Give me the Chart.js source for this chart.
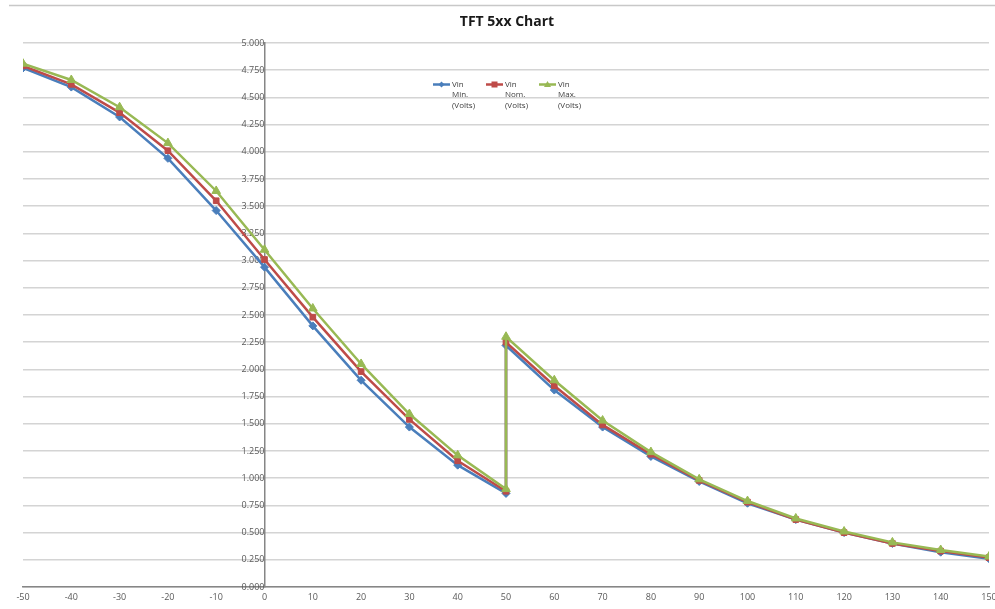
<!DOCTYPE html>
<html><head><meta charset="utf-8">
<script src="https://cdn.jsdelivr.net/npm/chart.js@4"></script>
<style>html,body{margin:0;padding:0;background:#fff}#wrap{width:995px;height:609px;position:relative}</style>
</head><body><div id="wrap"><canvas id="c"></canvas></div>
<script>
const xValues = [-50,-40,-30,-20,-10,0,10,20,30,40,50,50,60,70,80,90,100,110,120,130,140,150];
const vinMin = [4.77,4.595,4.32,3.94,3.46,2.94,2.40,1.90,1.47,1.12,0.86,2.22,1.81,1.47,1.20,0.97,0.77,0.62,0.50,0.40,0.32,0.26];
const vinNom = [4.79,4.62,4.36,4.01,3.55,3.01,2.48,1.98,1.54,1.16,0.88,2.25,1.85,1.49,1.22,0.98,0.78,0.62,0.50,0.40,0.33,0.27];
const vinMax = [4.81,4.66,4.41,4.08,3.64,3.10,2.56,2.05,1.59,1.21,0.90,2.30,1.90,1.53,1.24,0.99,0.79,0.63,0.51,0.41,0.34,0.28];
const seriesNames = [["Vin","Min.","(Volts)"],["Vin","Nom.","(Volts)"],["Vin","Max.","(Volts)"]];
const titleText = "TFT 5xx Chart";

const colors = ['#4a7ebb','#be4b48','#98b954'];
const styles = ['rectRot','rect','triangle'];
const radii = [4,4,5];
const toPts = arr => arr.map((v,i)=>({x:xValues[i],y:v}));
const datasets = [vinMin,vinNom,vinMax].map((arr,i)=>({
  label: seriesNames[i].join(' '),
  data: toPts(arr),
  showLine: true,
  order: 2 - i,
  borderColor: colors[i],
  backgroundColor: colors[i],
  borderWidth: 2.5,
  pointStyle: styles[i],
  pointRadius: radii[i],
  pointBorderWidth: 1,
  tension: 0
}));

const deco = {
  id:'deco',
  afterDraw(chart){
    const ctx = chart.ctx;
    ctx.save();
    ctx.strokeStyle = '#c8c8c8'; ctx.lineWidth = 1.5;
    ctx.beginPath(); ctx.moveTo(9,5.5); ctx.lineTo(995,5.5); ctx.stroke();
    ctx.fillStyle = '#1a1a1a';
    ctx.font = 'bold 14px "Open Sans", "Liberation Sans", sans-serif';
    ctx.textAlign = 'center'; ctx.textBaseline = 'middle';
    ctx.fillText(titleText, 507, 22);
    const xs = [433,486,539];
    ctx.font = '8px "Open Sans", "Liberation Sans", sans-serif';
    ctx.textAlign = 'left'; ctx.textBaseline = 'middle';
    xs.forEach((x0,i)=>{
      ctx.strokeStyle = colors[i]; ctx.lineWidth = 2.5;
      ctx.beginPath(); ctx.moveTo(x0,84.5); ctx.lineTo(x0+17,84.5); ctx.stroke();
      ctx.fillStyle = colors[i];
      const cx = x0+8.5, cy = 84.5;
      ctx.beginPath();
      if(i===0){ ctx.moveTo(cx,cy-3); ctx.lineTo(cx+3,cy); ctx.lineTo(cx,cy+3); ctx.lineTo(cx-3,cy); ctx.closePath(); }
      else if(i===1){ ctx.rect(cx-3,cy-3,6,6); }
      else { ctx.moveTo(cx,cy-3.5); ctx.lineTo(cx+3.5,cy+2.5); ctx.lineTo(cx-3.5,cy+2.5); ctx.closePath(); }
      ctx.fill();
      ctx.fillStyle = '#404040';
      seriesNames[i].forEach((t,k)=>ctx.fillText(t, x0+19, 84.5 + k*10.5));
    });
    ctx.restore();
  }
};

new Chart(document.getElementById('c'), {
  type: 'scatter',
  data: { datasets },
  options: {
    responsive: true, maintainAspectRatio: false, animation: false,
    layout: { padding: { top: 43, left: 23, right: 5, bottom: 0 } },
    plugins: { legend: { display: false }, title: { display: false }, tooltip: { enabled: false } },
    scales: {
      x: {
        type: 'linear', min: -50, max: 150,
        afterFit(s){ s.height = 22; s.paddingLeft = 0; s.paddingRight = 0; },
        ticks: { stepSize: 10, color: '#595959', font: { size: 9, family: '"Open Sans", sans-serif' }, padding: 2, maxRotation: 0, autoSkip: false },
        grid: { display: false, drawTicks: true, tickLength: 3, tickColor: '#868686' },
        border: { display: true, color: '#868686', width: 1.5 }
      },
      y: {
        type: 'linear', min: 0, max: 5, position: { x: 0 },
        ticks: { stepSize: 0.25, color: '#595959', font: { size: 9, family: '"Open Sans", sans-serif' }, padding: 4,
          callback: v => Number(v).toFixed(3) },
        grid: { color: '#d4d4d4', lineWidth: 1.5, drawTicks: true, tickLength: 3 },
        border: { display: true, color: '#868686', width: 1.5 }
      }
    }
  },
  plugins: [deco]
});
</script></body></html>
